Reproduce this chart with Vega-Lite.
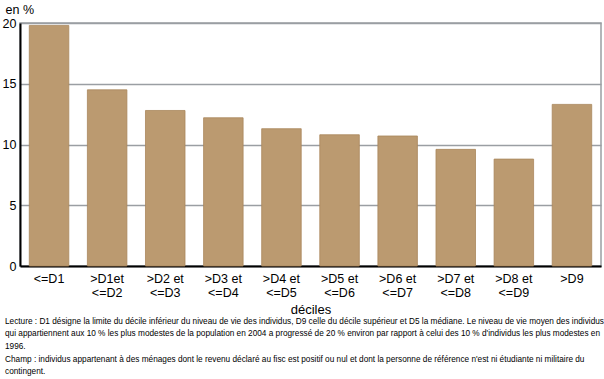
{
  "$schema": "https://vega.github.io/schema/vega-lite/v6.json",
  "width": 581,
  "height": 243,
  "autosize": {"type": "none"},
  "padding": {"left": 20, "top": 23, "right": 3, "bottom": 113},
  "background": "white",
  "config": {
    "font": "Liberation Sans, Arial, sans-serif",
    "view": {"stroke": "#9a9ea3", "strokeWidth": 1.5}
  },
  "title": {
    "text": [
      "Lecture : D1 désigne la limite du décile inférieur du niveau de vie des individus, D9 celle du décile supérieur et D5 la médiane. Le niveau de vie moyen des individus",
      "qui appartiennent aux 10 % les plus modestes de la population en 2004 a progressé de 20 % environ par rapport à celui des 10 % d'individus les plus modestes en",
      "1996.",
      "Champ : individus appartenant à des ménages dont le revenu déclaré au fisc est positif ou nul et dont la personne de référence n'est ni étudiante ni militaire du",
      "contingent."
    ],
    "orient": "bottom",
    "anchor": "start",
    "frame": "group",
    "dx": -15,
    "offset": 0,
    "fontSize": 8.25,
    "fontWeight": "normal",
    "lineHeight": 12.7,
    "color": "#000000",
    "font": "Liberation Sans, Arial, sans-serif"
  },
  "data": {
    "values": [
      {"d": "<=D1", "v": 19.8},
      {"d": ">D1et\n<=D2", "v": 14.5},
      {"d": ">D2 et\n<=D3", "v": 12.8},
      {"d": ">D3 et\n<=D4", "v": 12.2},
      {"d": ">D4 et\n<=D5", "v": 11.3},
      {"d": ">D5 et\n<=D6", "v": 10.8},
      {"d": ">D6 et\n<=D7", "v": 10.7},
      {"d": ">D7 et\n<=D8", "v": 9.6},
      {"d": ">D8 et\n<=D9", "v": 8.8},
      {"d": ">D9", "v": 13.3}
    ]
  },
  "mark": {"type": "bar", "color": "#bb9a70", "stroke": "#a9865c", "strokeWidth": 0.8},
  "encoding": {
    "x": {
      "field": "d",
      "type": "nominal",
      "sort": null,
      "scale": {"paddingInner": 0.32, "paddingOuter": 0.16},
      "axis": {
        "title": "déciles",
        "titleFontSize": 13,
        "titleFontWeight": "normal",
        "titlePadding": 5,
        "labelAngle": 0,
        "labelExpr": "split(datum.label, '\\n')",
        "labelFontSize": 12.5,
        "labelLineHeight": 14,
        "labelPadding": 6,
        "labelColor": "#000",
        "titleColor": "#000",
        "ticks": false,
        "domainColor": "#000",
        "domainWidth": 2
      }
    },
    "y": {
      "field": "v",
      "type": "quantitative",
      "scale": {"domain": [0, 20], "nice": false},
      "axis": {
        "values": [0, 5, 10, 15, 20],
        "title": "en %",
        "titleAngle": 0,
        "titleAlign": "left",
        "titleBaseline": "middle",
        "titleX": -15,
        "titleY": -14,
        "titleFontSize": 12.5,
        "titleFontWeight": "normal",
        "titleColor": "#000",
        "labelFontSize": 12.5,
        "labelColor": "#000",
        "labelPadding": 4,
        "ticks": false,
        "domainColor": "#000",
        "domainWidth": 2,
        "grid": true,
        "gridColor": "#9a9ea3",
        "gridWidth": 1.5
      }
    }
  }
}
